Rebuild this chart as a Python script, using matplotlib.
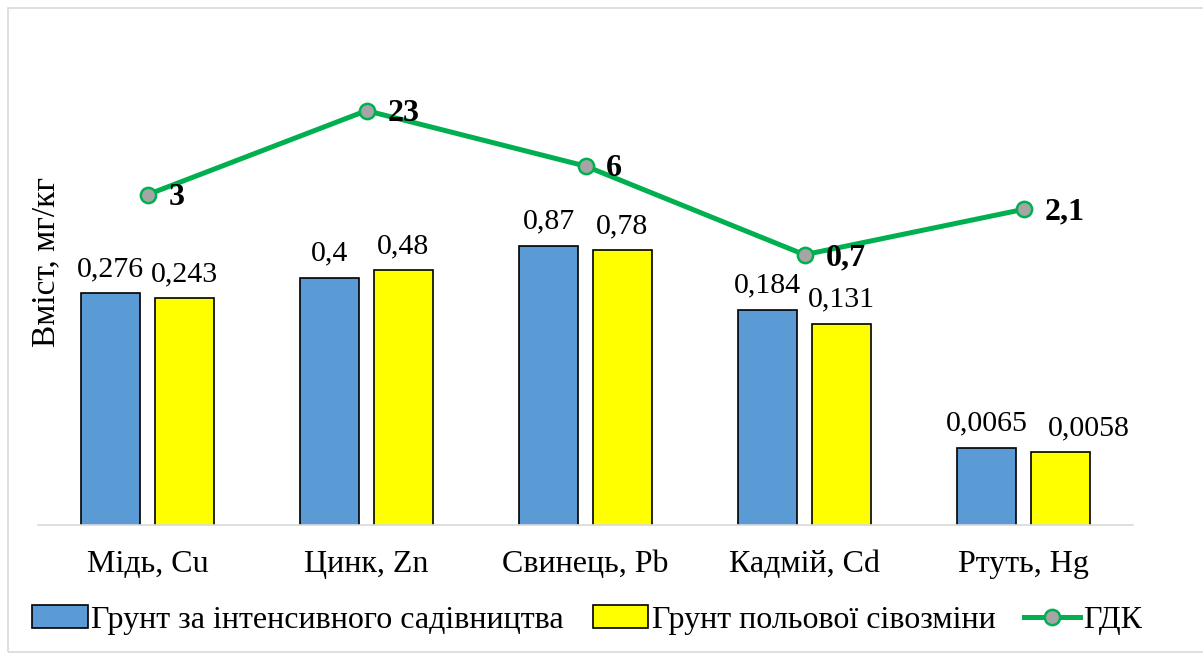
import matplotlib.pyplot as plt
import numpy as np
from matplotlib.patches import Rectangle

categories = ['Мідь, Cu', 'Цинк, Zn', 'Свинець, Pb', 'Кадмій, Cd', 'Ртуть, Hg']
garden = [0.276, 0.4, 0.87, 0.184, 0.0065]
field = [0.243, 0.48, 0.78, 0.131, 0.0058]
gdk = [3, 23, 6, 0.7, 2.1]
garden_lbl = ['0,276', '0,4', '0,87', '0,184', '0,0065']
field_lbl = ['0,243', '0,48', '0,78', '0,131', '0,0058']
gdk_lbl = ['3', '23', '6', '0,7', '2,1']

plt.rcParams['font.family'] = ['Liberation Serif', 'DejaVu Serif']

W, H = 1203, 655
fig = plt.figure(figsize=(W / 100, H / 100), dpi=100)

# outer light frame
fig.patches.append(Rectangle((8 / W, 3 / H), 1.2, 1 - 11 / H, transform=fig.transFigure,
                             fill=False, edgecolor='#d9d9d9', linewidth=1.2))

ax = fig.add_axes([38 / W, 1 - 525 / H, (1133 - 38) / W, (525 - 40) / H])
ax.set_yscale('log')
ax.set_ylim(0.001, 10 ** ((525 - 40) / 95 - 3))
x = np.arange(len(categories))
ax.set_xlim(-0.5, len(categories) - 0.5)

w = 0.27
off = 0.167
b1 = ax.bar(x - off, garden, w, color='#5B9BD5', edgecolor='black', linewidth=1.2,
            label='Грунт за інтенсивного садівництва')
b2 = ax.bar(x + off, field, w, color='#FFFF00', edgecolor='black', linewidth=1.2,
            label='Грунт польової сівозміни')
ln, = ax.plot(x, gdk, color='#00B050', linewidth=3.6, marker='o', markersize=11,
              markerfacecolor='#A5A5A5', markeredgecolor='#00B050', markeredgewidth=1.8,
              label='ГДК')

for i in range(len(x)):
    ax.annotate(garden_lbl[i], (x[i] - off, garden[i]), xytext=(0, 8), textcoords='offset points',
                ha='center', va='bottom', fontsize=21.5)
    # last yellow label is pushed right in the original to avoid its neighbour
    dx = 21 if i == len(x) - 1 else 0
    ax.annotate(field_lbl[i], (x[i] + off, field[i]), xytext=(dx, 8), textcoords='offset points',
                ha='center', va='bottom', fontsize=21.5)
    ax.annotate(gdk_lbl[i], (x[i], gdk[i]), xytext=(15, -2), textcoords='offset points',
                ha='left', va='center', fontsize=23, fontweight='bold')

ax.set_xticks(x)
ax.set_xticklabels(categories, fontsize=23)
ax.tick_params(axis='x', length=0, pad=18)
ax.set_yticks([])
ax.yaxis.set_minor_locator(plt.NullLocator())
for s in ['top', 'right', 'left']:
    ax.spines[s].set_visible(False)
ax.spines['bottom'].set_color('#d9d9d9')
ax.spines['bottom'].set_linewidth(1.2)

fig.text(46 / W, 1 - 262 / H, 'Вміст, мг/кг', rotation=90, ha='center', va='center', fontsize=24)

fig.legend(handles=[b1, b2, ln], loc='center', bbox_to_anchor=(0.488, 1 - 620 / H), ncol=3,
           frameon=False, fontsize=23, handlelength=1.75, handleheight=0.7,
           handletextpad=0.1, columnspacing=0.9)

fig.savefig('out.png', dpi=100)
